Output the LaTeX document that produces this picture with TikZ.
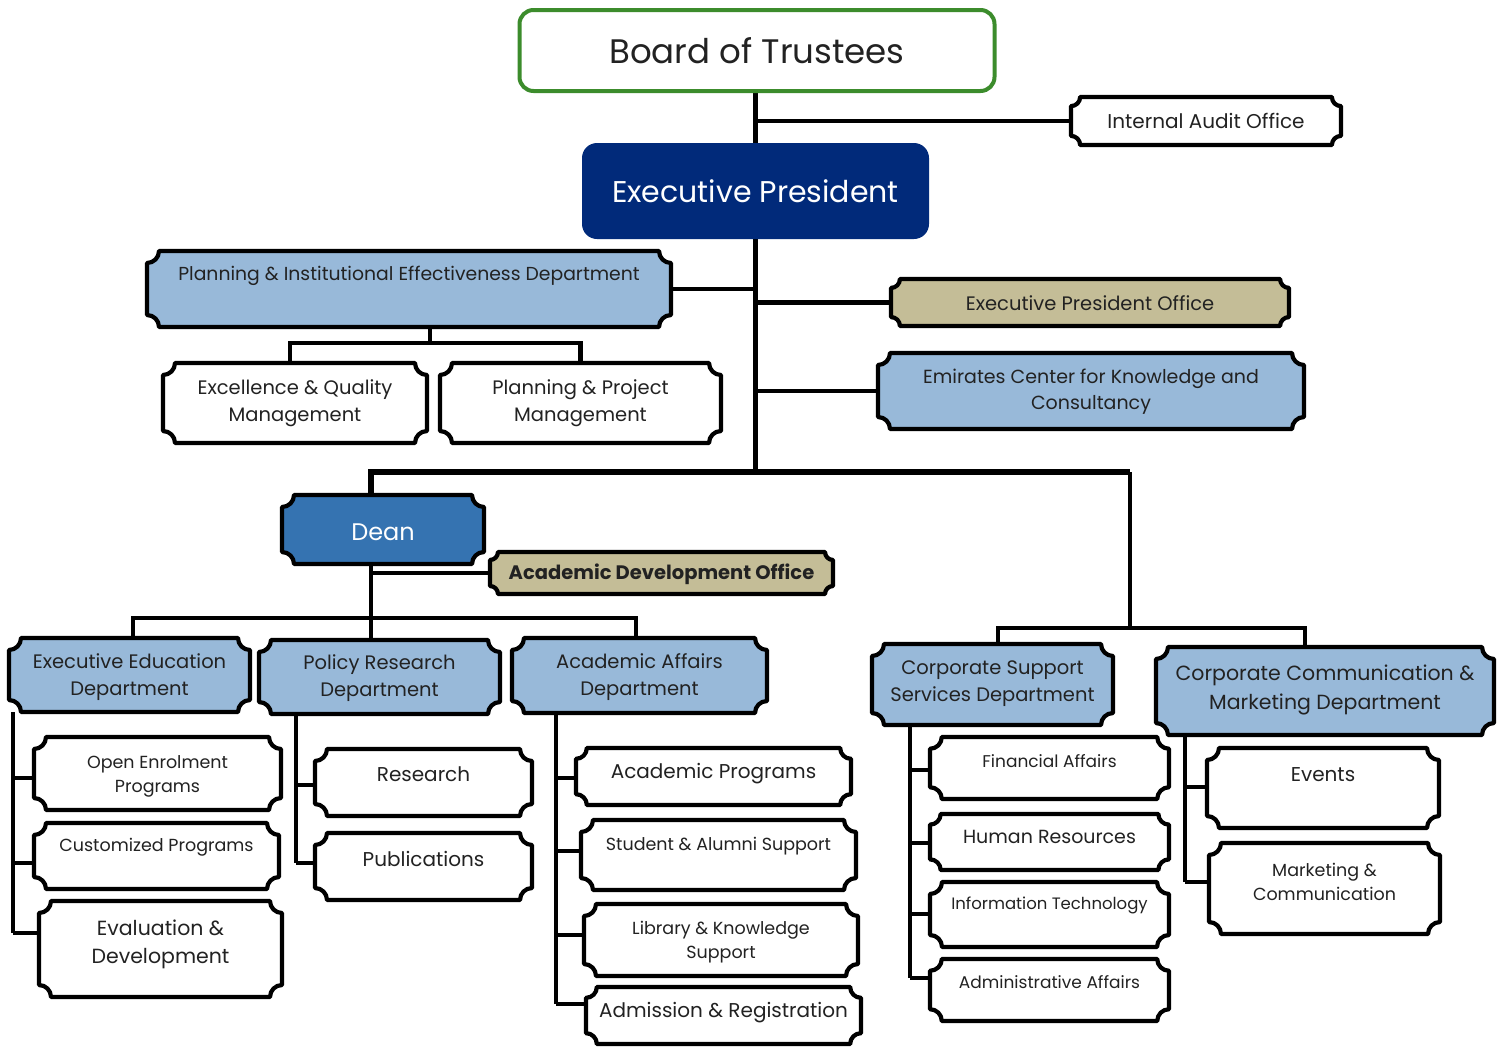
\documentclass[tikz,border=0pt]{standalone}
\usepackage{fontspec}
\setmainfont{Poppins}
\usetikzlibrary{calc,backgrounds}
\definecolor{lblue}{HTML}{98B9D9}
\definecolor{tan}{HTML}{C4BD97}
\definecolor{dblue}{HTML}{3573B1}
\definecolor{navy}{HTML}{012A7A}
\definecolor{bgreen}{HTML}{3C8C2C}
\definecolor{txtgray}{HTML}{222222}
\tikzset{
  boxarea/.style={shape=rectangle, inner sep=0pt, outer sep=0pt, draw=none},
  boxtext/.style={align=center, inner sep=0pt, text=txtgray},
  plqline/.style={line width=4.2pt, draw=black, line join=round},
  conn/.style={line width=4.5pt, draw=black},
  trunk/.style={line width=5.5pt, draw=black},
  thinconn/.style={line width=4pt, draw=black},
}
% name, x1, y1, x2, y2, path style, text y, font size, text
\newcommand\plq[9]{%
  \pgfmathsetmacro\plqr{min(12,(#5-#3)*0.19)}%
  \pgfmathsetmacro\plqbs{#8*1.38}%
  \node[boxarea, minimum width={(#4-#2)*1pt}, minimum height={(#5-#3)*1pt}] (#1) at ({(#2+#4)/2},{(#3+#5)/2}) {};
  \draw[plqline,#6] (#2,{#3+\plqr}) arc[start angle=90,end angle=0,radius=\plqr]
    -- ({#4-\plqr},#3) arc[start angle=180,end angle=90,radius=\plqr]
    -- (#4,{#5-\plqr}) arc[start angle=270,end angle=180,radius=\plqr]
    -- ({#2+\plqr},#5) arc[start angle=0,end angle=-90,radius=\plqr] -- cycle;
  \node[boxtext, font=\fontsize{#8}{\plqbs}\selectfont] (#1t) at ({(#2+#4)/2},#7) {#9};
}
\begin{document}
\begin{tikzpicture}[x=1pt,y=-1pt]
\useasboundingbox (0,0) rectangle (1502,1047);

% top boxes
\node[draw=bgreen, line width=4pt, rounded corners=14pt, fill=white,
      minimum width=475pt, minimum height=81pt, inner sep=0pt,
      font=\fontsize{34}{40}\selectfont, text=txtgray] (bot) at (757,50.5) {Board of Trustees};
\node[fill=navy, rounded corners=15pt, minimum width=347pt, minimum height=96pt, inner sep=0pt,
      font=\fontsize{30}{36}\selectfont, text=white] (ep) at (755.5,191) {Executive President};

\plq{ia}{1071}{97}{1341}{145}{fill=white}{121}{20}{Internal Audit Office}
\plq{pied}{147}{251}{671}{327}{fill=lblue}{276}{18.8}{Planning \& Institutional Effectiveness Department}
\plq{eqm}{163}{363}{427}{443}{fill=white}{403}{19.5}{Excellence \& Quality\\Management}
\plq{ppm}{440}{363}{721}{443}{fill=white}{403}{19.5}{Planning \& Project\\Management}
\plq{epo}{891}{279}{1289}{326}{fill=tan}{303}{19.5}{Executive President Office}
\plq{ecks}{878}{353}{1304}{429}{fill=lblue}{392}{19}{Emirates Center for Knowledge and\\Consultancy}

\plq{dean}{282}{495}{484}{564}{fill=dblue}{532}{24}{\color{white}Dean}
\plq{ado}{490}{552}{833}{594}{fill=tan}{574}{19.5}{\bfseries Academic Development Office}

\plq{ee}{9}{638}{250}{712}{fill=lblue}{677}{19.5}{Executive Education\\Department}
\plq{prd}{259}{640}{500}{714}{fill=lblue}{678}{19.5}{Policy Research\\Department}
\plq{aad}{512}{638}{767}{713}{fill=lblue}{677}{19.5}{Academic Affairs\\Department}

\plq{oep}{34}{737}{281}{810}{fill=white}{776}{17.5}{Open Enrolment\\Programs}
\plq{cp}{34}{823}{279}{889}{fill=white}{847}{17.5}{Customized Programs}
\plq{ed}{39}{901}{282}{997}{fill=white}{944}{20.5}{Evaluation \&\\Development}

\plq{res}{315}{749}{532}{816}{fill=white}{774}{20}{Research}
\plq{pub}{315}{833}{532}{900}{fill=white}{859}{20}{Publications}

\plq{ap}{576}{748}{851}{805}{fill=white}{774}{20}{Academic Programs}
\plq{sas}{581}{820}{856}{890}{fill=white}{846}{17.5}{Student \& Alumni Support}
\plq{lks}{584}{904}{858}{976}{fill=white}{942}{17.5}{Library \& Knowledge\\Support}
\plq{ar}{586}{987}{861}{1044}{fill=white}{1013}{20}{Admission \& Registration}

\plq{css}{872}{644}{1113}{725}{fill=lblue}{684}{19.5}{Corporate Support\\Services Department}
\plq{ccmd}{1156}{647}{1494}{735}{fill=lblue}{690}{20.5}{Corporate Communication \&\\Marketing Department}

\plq{fa}{930}{737}{1169}{799}{fill=white}{761}{17}{Financial Affairs}
\plq{hr}{930}{814}{1169}{870}{fill=white}{837}{19}{Human Resources}
\plq{it}{930}{882}{1169}{947}{fill=white}{905}{16.5}{Information Technology}
\plq{aa}{930}{959}{1169}{1021}{fill=white}{982}{17}{Administrative Affairs}

\plq{ev}{1207}{748}{1439}{828}{fill=white}{775}{20}{Events}
\plq{mc}{1209}{843}{1440}{934}{fill=white}{882}{17.5}{Marketing \&\\Communication}

% junctions
\coordinate (j1) at (755.5,472);
\coordinate (jl) at (371,472);
\coordinate (jr) at (1130,472);
\coordinate (jr2) at (1130,628);
\coordinate (pj) at (430,343);

\begin{scope}[on background layer]
\draw[trunk] (ep.north |- bot.south) -- (ep.north);
\draw[thinconn] (ep.north |- ia.west) -- (ia.west);
\draw[trunk] (ep.south) -- (j1);
\draw[conn] (pied.east) -- (pied.east -| ep.south);
\draw[conn] (epo.west) -- (epo.west -| ep.south);
\draw[conn] (ecks.west) -- (ecks.west -| ep.south);
\draw[conn] (pied.south -| pj) -- (pj);
\draw[conn] (eqm.north -| 290,0) |- (pj) -| (ppm.north);
\draw[trunk] (dean.north -| jl) -- (jl) -- (jr);
\draw[conn] (jr) -- (jr2);
\draw[conn] (css.north -| 998,0) |- (jr2) -| (ccmd.north -| 1305,0);
% dean
\draw[conn] (dean.south -| jl) -- (prd.north -| jl);
\draw[conn] (ado.west) -- (ado.west -| jl);
\draw[conn] (ee.north -| 133,0) -- (133,618) -- (636,618) -- (aad.north -| 636,0);
% executive education
\draw[conn] (ee.south -| 13,0) -- (13,933);
\draw[conn] (13,778) -- (oep.west |- 0,778);
\draw[conn] (13,863) -- (cp.west |- 0,863);
\draw[conn] (13,933) -- (ed.west |- 0,933);
% policy research
\draw[conn] (prd.south -| 296,0) -- (296,863);
\draw[conn] (296,785) -- (res.west |- 0,785);
\draw[conn] (296,863) -- (pub.west |- 0,863);
% academic affairs
\draw[conn] (aad.south -| 556,0) -- (556,1004);
\draw[conn] (556,778) -- (ap.west |- 0,778);
\draw[conn] (556,851) -- (sas.west |- 0,851);
\draw[conn] (556,935) -- (lks.west |- 0,935);
\draw[conn] (556,1004) -- (ar.west |- 0,1004);
% corporate support
\draw[conn] (css.south -| 910,0) -- (910,978);
\draw[conn] (910,770) -- (fa.west |- 0,770);
\draw[conn] (910,843) -- (hr.west |- 0,843);
\draw[conn] (910,914) -- (it.west |- 0,914);
\draw[conn] (910,978) -- (aa.west |- 0,978);
% corporate communication
\draw[conn] (ccmd.south -| 1185,0) -- (1185,882);
\draw[conn] (1185,787) -- (ev.west |- 0,787);
\draw[conn] (1185,882) -- (mc.west |- 0,882);
\end{scope}
\end{tikzpicture}
\end{document}
